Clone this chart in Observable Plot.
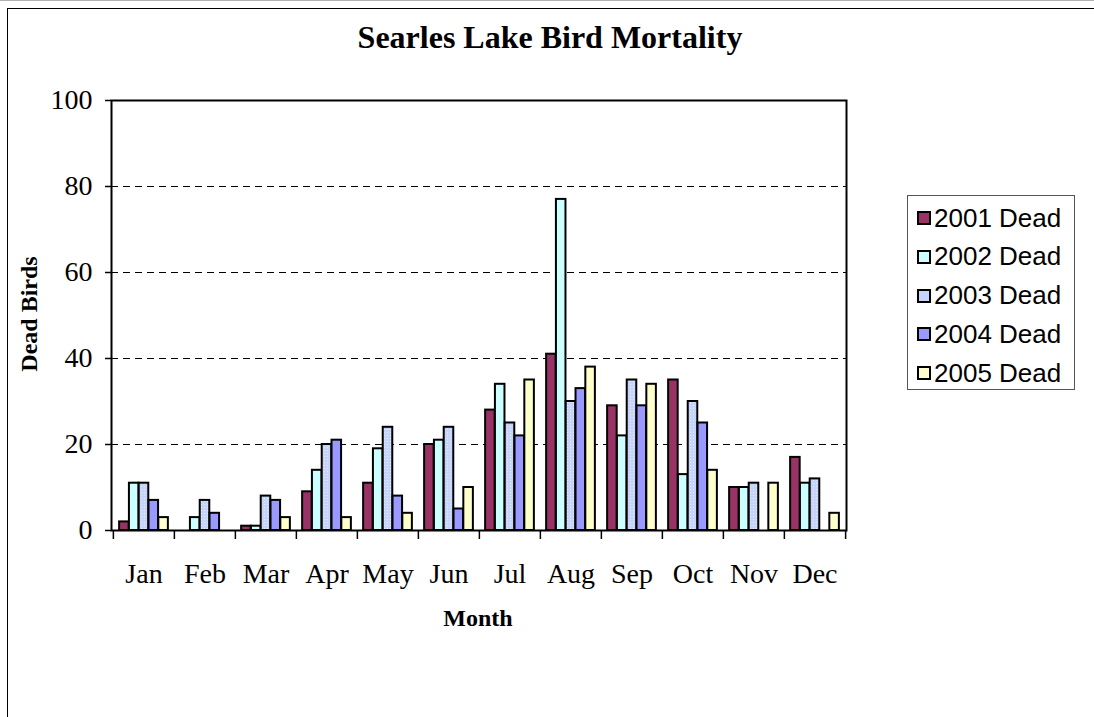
<!DOCTYPE html>
<html>
<head>
<meta charset="utf-8">
<script src="https://cdn.jsdelivr.net/npm/d3@7"></script>
<script src="https://cdn.jsdelivr.net/npm/@observablehq/plot@0.6"></script>
<style>
  html, body { margin: 0; padding: 0; background: #fff; }
  #wrap { position: relative; width: 1094px; height: 717px; overflow: hidden; background: #fff; }
  #wrap svg.chart { position: absolute; left: 0; top: 0; }
  .outer { position: absolute; left: 7px; top: 8px; width: 1100px; height: 720px; border-top: 1.5px solid #000; border-left: 1.5px solid #000; }
  .topline { position: absolute; left: 0; top: 0; width: 1094px; height: 1px; background: #b0b0b0; }
  .title { position: absolute; left: 0; width: 1100px; top: 19px; text-align: center; font: bold 32px "Liberation Serif", "Times New Roman", serif; color: #000; }
  .xlabel { position: absolute; left: 378px; width: 200px; top: 605px; text-align: center; font: bold 24px "Liberation Serif", "Times New Roman", serif; }
  .ylabel { position: absolute; left: 29px; top: 314px; transform: translate(-50%, -50%) rotate(-90deg); white-space: nowrap; font: bold 24px "Liberation Serif", "Times New Roman", serif; }
  .legend { position: absolute; left: 907px; top: 195px; width: 168px; height: 195px; border: 1px solid #555; box-sizing: border-box; }
  .legend .item { position: absolute; left: 9px; height: 30px; display: flex; align-items: center; font: 26px "Liberation Sans", Arial, sans-serif; color: #000; white-space: nowrap; }
  .legend .sw { width: 10px; height: 10px; border: 2px solid #000; margin-right: 3px; }
</style>
</head>
<body>
<svg width="0" height="0" style="position:absolute">
  <defs>
    <pattern id="p2003" width="3" height="3" patternUnits="userSpaceOnUse">
      <rect width="3" height="3" fill="#C6D4FA"></rect>
      <rect width="1" height="1" fill="#E4ECFF"></rect>
    </pattern>
  </defs>
</svg>
<div id="wrap">
  <div class="topline"></div>
  <div class="outer"></div>
</div>
<script>
const months = ["Jan","Feb","Mar","Apr","May","Jun","Jul","Aug","Sep","Oct","Nov","Dec"];
const seriesNames = ["2001 Dead","2002 Dead","2003 Dead","2004 Dead","2005 Dead"];
const dead2001 = [2, 0, 1, 9, 11, 20, 28, 41, 29, 35, 10, 17];
const dead2002 = [11, 3, 1, 14, 19, 21, 34, 77, 22, 13, 10, 11];
const dead2003 = [11, 7, 8, 20, 24, 24, 25, 30, 35, 30, 11, 12];
const dead2004 = [7, 4, 7, 21, 8, 5, 22, 33, 29, 25, 0, 0];
const dead2005 = [3, 0, 3, 3, 4, 10, 35, 38, 34, 14, 11, 4];
const yTicks = [0, 20, 40, 60, 80, 100];
const gridValues = [20, 40, 60, 80];

const seriesValues = [dead2001, dead2002, dead2003, dead2004, dead2005];
const seriesFills = ["#993366", "#CCFFFF", "url(#p2003)", "#9999FF", "#FFFFCC"];

const W = 1094, H = 717;
const mL = 111, mR = 248, mT = 100, mB = 187;
const bw = (W - mL - mR) / months.length;
const barW = bw * 0.8 / seriesNames.length;
const outerPad = (bw - barW * seriesNames.length) / 2;

const rows = [];
seriesNames.forEach((s, i) => months.forEach((m, j) => rows.push({series: s, si: i, month: m, value: seriesValues[i][j]})));

const barMarks = seriesNames.map((s, i) => Plot.barY(rows.filter(d => d.si === i), {
  x: "month", y: "value",
  fill: seriesFills[i], stroke: "#000", strokeWidth: 2,
  insetLeft: outerPad + i * barW,
  insetRight: bw - outerPad - (i + 1) * barW
}));

const chart = Plot.plot({
  width: W, height: H,
  marginLeft: mL, marginRight: mR, marginTop: mT, marginBottom: mB,
  style: {fontFamily: "'Liberation Serif', 'Times New Roman', serif", fontSize: "28px", background: "transparent", color: "#000"},
  x: {type: "band", domain: months, padding: 0},
  y: {domain: [0, 100]},
  marks: [
    Plot.ruleY(gridValues, {stroke: "#000", strokeWidth: 1, strokeDasharray: "7,5"}),
    ...barMarks,
    Plot.frame({stroke: "#000", strokeWidth: 2}),
    Plot.axisY(yTicks, {tickSize: 6, tickPadding: 13, fontSize: 28, label: null, strokeWidth: 1.5}),
    Plot.axisX({tickSize: 0, tickPadding: 33, fontSize: 28, label: null}),
    Plot.axisX(months, {tickSize: 9, tickFormat: () => "", dx: -bw / 2, label: null, strokeWidth: 1.5}),
    Plot.axisX([months[months.length - 1]], {tickSize: 9, tickFormat: () => "", dx: bw / 2, label: null, strokeWidth: 1.5})
  ]
});
chart.classList.add("chart");
const wrap = document.getElementById("wrap");
wrap.appendChild(chart);

function addDiv(cls, text) {
  const d = document.createElement("div");
  d.className = cls;
  d.textContent = text;
  wrap.appendChild(d);
  return d;
}
addDiv("title", "Searles Lake Bird Mortality");
addDiv("xlabel", "Month");
addDiv("ylabel", "Dead Birds");

const legend = document.createElement("div");
legend.className = "legend";
const legendFills = ["#993366", "#CCFFFF", "#C6D4FA", "#9999FF", "#FFFFCC"];
seriesNames.forEach((s, i) => {
  const it = document.createElement("div");
  it.className = "item";
  it.style.top = (7 + i * 38.75) + "px";
  const sw = document.createElement("div");
  sw.className = "sw";
  sw.style.background = legendFills[i];
  it.appendChild(sw);
  const t = document.createElement("span");
  t.textContent = s;
  it.appendChild(t);
  legend.appendChild(it);
});
wrap.appendChild(legend);
</script>
</body>
</html>
